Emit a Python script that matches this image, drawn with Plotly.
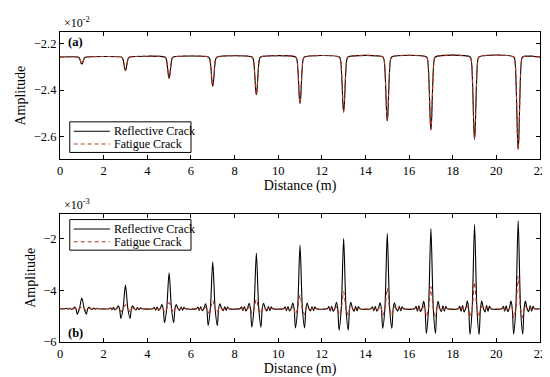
import plotly.graph_objects as go

# ---------------- data ----------------
crack_pos = [1, 3, 5, 7, 9, 11, 13, 15, 17, 19, 21]          # m

# panel (a): amplitude in units of 1e-2
a_baseline = -2.257
a_refl_min = [-2.288, -2.316, -2.350, -2.384, -2.420, -2.458, -2.495, -2.533, -2.572, -2.614, -2.657]
a_fat_min = [-2.288, -2.316, -2.350, -2.384, -2.420, -2.458, -2.495, -2.533, -2.572, -2.614, -2.657]

# panel (b): amplitude in units of 1e-3
b_baseline = -4.71
b_refl_peak = [-4.29, -3.79, -3.31, -2.89, -2.55, -2.24, -1.98, -1.78, -1.60, -1.43, -1.30]
b_refl_trough = [-4.92, -5.09, -5.25, -5.36, -5.43, -5.45, -5.54, -5.47, -5.67, -5.71, -5.70]
b_fat_peak = [-4.63, -4.56, -4.47, -4.40, -4.35, -4.18, -4.05, -3.92, -3.85, -3.68, -3.46]
b_fat_trough = [-4.80, -4.83, -4.86, -4.88, -4.90, -4.93, -4.95, -4.97, -5.00, -5.02, -5.05]

x_ticks = [0, 2, 4, 6, 8, 10, 12, 14, 16, 18, 20, 22]
a_yticks = [-2.2, -2.4, -2.6]
b_yticks = [-2, -4, -6]
series_names = ["Reflective Crack", "Fatigue Crack"]

# pulse shapes (offset in m, relative weight)
dip_offs = [-0.20, -0.14, -0.10, -0.06, -0.03, 0.0, 0.03, 0.06, 0.10, 0.14, 0.20]
dip_w = [0.0, 0.06, 0.25, 0.60, 0.88, 1.0, 0.88, 0.60, 0.25, 0.06, 0.0]

wav_offs = [-0.75, -0.68, -0.62, -0.55, -0.48, -0.41, -0.33, -0.27, -0.21, -0.11, 0.0,
            0.11, 0.21, 0.27, 0.33, 0.41, 0.48, 0.55, 0.62, 0.68, 0.75]
wav_peak_w = [0, 0, 0, 0, 0, 0, 0, 0, 0, 0, 1, 0, 0, 0, 0, 0, 0, 0, 0, 0, 0]
wav_trough_w = [0, 0.10, -0.10, 0.12, -0.12, 0, 0.30, 0, -1, 0, 0,
                0, -1, 0, 0.30, 0, -0.12, 0.12, -0.10, 0.10, 0]


def dip_trace(base, mins):
    xs, ys = [0.0], [base]
    for c, m in zip(crack_pos, mins):
        for o, w in zip(dip_offs, dip_w):
            xs.append(c + o)
            ys.append(base + (m - base) * w)
    xs.append(22.0)
    ys.append(base)
    return xs, ys


def wave_trace(base, peaks, troughs):
    xs, ys = [0.0], [base]
    for c, p, t in zip(crack_pos, peaks, troughs):
        A = p - base
        Bd = base - t
        for o, wp, wt in zip(wav_offs, wav_peak_w, wav_trough_w):
            xs.append(c + o)
            ys.append(base + A * wp + Bd * wt)
    xs.append(22.0)
    ys.append(base)
    return xs, ys


# ---------------- figure ----------------
W, H = 550, 377
L, R, T, B = 46, 13, 24, 39
pw = W - L - R
ph = H - T - B


def px_x(px):
    return (px - L) / pw


def px_y(py):
    return (H - B - py) / ph


top_dom = [px_y(153), 1.0]
bot_dom = [0.0, px_y(208)]

FONT = "Liberation Serif, Times New Roman, Times, serif"
BLACK = "#000000"
RED = "#b8361e"
line_styles = [dict(color=BLACK, width=1.1), dict(color=RED, width=1.1, dash="4px,3px")]

fig = go.Figure()

xa, ya = dip_trace(a_baseline, a_refl_min)
fig.add_trace(go.Scatter(x=xa, y=ya, mode="lines", name=series_names[0], showlegend=False,
                         line=dict(shape="spline", smoothing=0.8, **line_styles[0]),
                         xaxis="x", yaxis="y"))
xa, ya = dip_trace(a_baseline, a_fat_min)
fig.add_trace(go.Scatter(x=xa, y=ya, mode="lines", name=series_names[1], showlegend=False,
                         line=dict(shape="spline", smoothing=0.8, **line_styles[1]),
                         xaxis="x", yaxis="y"))

xb, yb = wave_trace(b_baseline, b_refl_peak, b_refl_trough)
fig.add_trace(go.Scatter(x=xb, y=yb, mode="lines", name=series_names[0], showlegend=False,
                         line=dict(shape="spline", smoothing=0.8, **line_styles[0]),
                         xaxis="x2", yaxis="y2"))
xb, yb = wave_trace(b_baseline, b_fat_peak, b_fat_trough)
fig.add_trace(go.Scatter(x=xb, y=yb, mode="lines", name=series_names[1], showlegend=False,
                         line=dict(shape="spline", smoothing=0.8, **line_styles[1]),
                         xaxis="x2", yaxis="y2"))

axis_common = dict(showline=True, linecolor=BLACK, linewidth=1, mirror="ticks",
                   ticks="inside", ticklen=4, tickcolor=BLACK, showgrid=False, zeroline=False,
                   tickfont=dict(family=FONT, size=12.5, color=BLACK))

# legends drawn as boxes (layout elements)
shapes = []
annotations = []
for box_top in (115, 214):
    shapes.append(dict(type="rect", xref="paper", yref="paper",
                       x0=px_x(56), x1=px_x(180), y0=px_y(box_top), y1=px_y(box_top + 31),
                       line=dict(color=BLACK, width=1), fillcolor="white", layer="above"))
    for i, name in enumerate(series_names):
        yy = box_top + 9.5 + 13 * i
        st = line_styles[i]
        shapes.append(dict(type="line", xref="paper", yref="paper",
                           x0=px_x(60), x1=px_x(97), y0=px_y(yy), y1=px_y(yy),
                           line=dict(color=st["color"], width=1.1, dash=st.get("dash", "solid")),
                           layer="above"))
        annotations.append(dict(text=name, xref="paper", yref="paper", x=px_x(99), y=px_y(yy),
                                xanchor="left", yanchor="middle", showarrow=False,
                                font=dict(family=FONT, size=12, color=BLACK)))

annotations += [
    dict(text="×10<sup>-2</sup>", xref="paper", yref="paper", x=px_x(48), y=px_y(14),
         xanchor="left", yanchor="middle", showarrow=False, font=dict(family=FONT, size=12)),
    dict(text="×10<sup>-3</sup>", xref="paper", yref="paper", x=px_x(48), y=px_y(199),
         xanchor="left", yanchor="middle", showarrow=False, font=dict(family=FONT, size=12)),
    dict(text="<b>(a)</b>", xref="paper", yref="paper", x=px_x(52), y=px_y(34),
         xanchor="left", yanchor="middle", showarrow=False, font=dict(family=FONT, size=12.5)),
    dict(text="<b>(b)</b>", xref="paper", yref="paper", x=px_x(52), y=px_y(329),
         xanchor="left", yanchor="middle", showarrow=False, font=dict(family=FONT, size=12.5)),
]

fig.update_layout(
    width=W, height=H,
    margin=dict(l=L, r=R, t=T, b=B),
    paper_bgcolor="white", plot_bgcolor="white",
    font=dict(family=FONT, color=BLACK),
    showlegend=False,
    xaxis=dict(domain=[0, 1], anchor="y", range=[0, 22], tickvals=x_ticks,
               title=dict(text="Distance (m)", font=dict(family=FONT, size=14), standoff=1), **axis_common),
    yaxis=dict(domain=top_dom, anchor="x", range=[-2.70, -2.149], tickvals=a_yticks,
               tickformat=".1f",
               title=dict(text="Amplitude", font=dict(family=FONT, size=14), standoff=4), **axis_common),
    xaxis2=dict(domain=[0, 1], anchor="y2", range=[0, 22], tickvals=x_ticks,
                title=dict(text="Distance (m)", font=dict(family=FONT, size=14), standoff=2), **axis_common),
    yaxis2=dict(domain=bot_dom, anchor="x2", range=[-6, -1.02], tickvals=b_yticks,
                title=dict(text="Amplitude", font=dict(family=FONT, size=14), standoff=4), **axis_common),
    shapes=shapes,
    annotations=annotations,
)

fig.write_html("out.html")
